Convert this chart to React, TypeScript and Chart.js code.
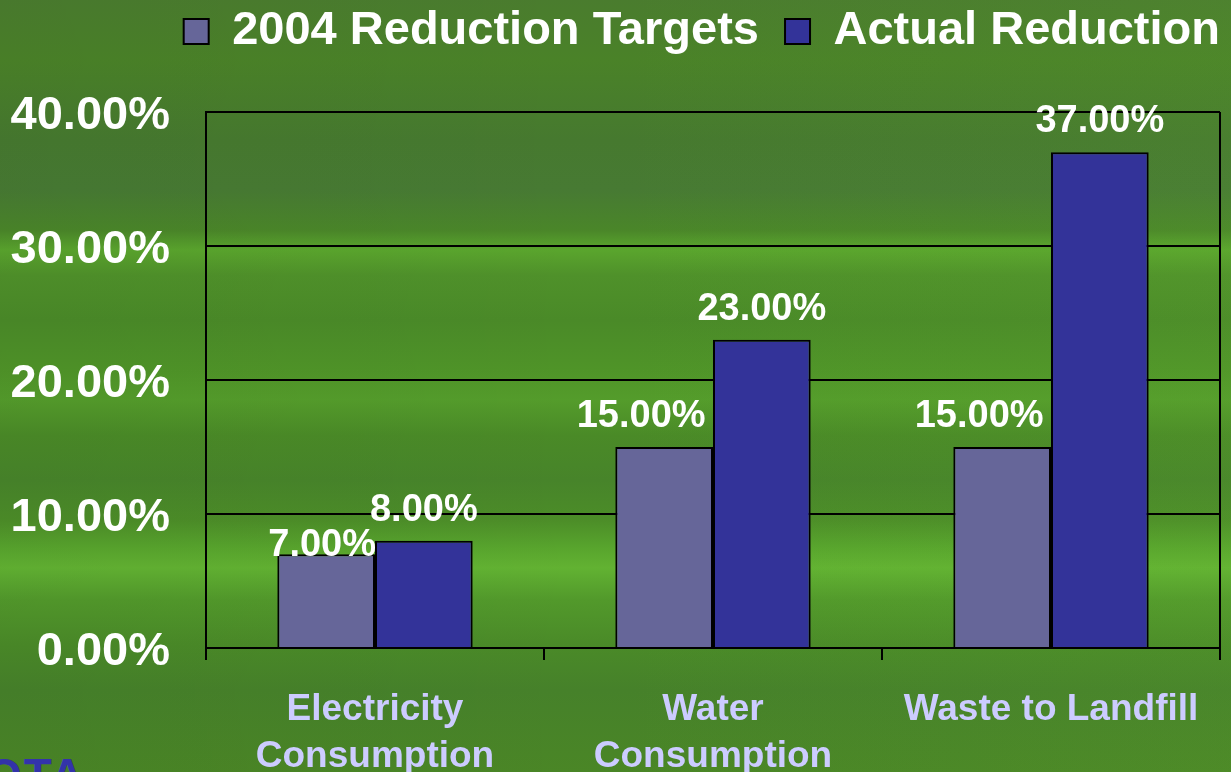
import React, { useEffect, useRef } from 'react';
import { Chart, registerables } from 'chart.js';

Chart.register(...registerables);

const categories: (string | string[])[] = [['Electricity', 'Consumption'], ['Water', 'Consumption'], 'Waste to Landfill'];
const seriesNames = ['2004 Reduction Targets', 'Actual Reduction'];
const targetValues = [7, 15, 15];
const actualValues = [8, 23, 37];
const yMin = 0;
const yMax = 40;
const yStep = 10;

const FONT = '"Liberation Sans", Arial, Helvetica, sans-serif';

const valueLabels = {
  id: 'valueLabels',
  afterDatasetsDraw(chart: any) {
    const ctx = chart.ctx;
    ctx.save();
    ctx.font = `bold 38px ${FONT}`;
    ctx.fillStyle = '#ffffff';
    ctx.textAlign = 'center';
    ctx.textBaseline = 'alphabetic';
    chart.data.datasets.forEach((ds: any, di: number) => {
      const meta = chart.getDatasetMeta(di);
      meta.data.forEach((bar: any, i: number) => {
        let dx = di === 0 ? -23 : 0;
        let dy = 0;
        if (di + 1 < chart.data.datasets.length) {
          const other = chart.getDatasetMeta(di + 1).data[i];
          if (other && Math.abs(other.y - bar.y) < 30) {
            dx = -4;
            dy = 22;
          }
        }
        ctx.fillText(Number(ds.data[i]).toFixed(2) + '%', bar.x + dx, bar.y - 20 + dy);
      });
    });
    ctx.restore();
  },
};

const frameRight = {
  id: 'frameRight',
  afterDraw(chart: any) {
    const { ctx, chartArea } = chart;
    ctx.save();
    ctx.strokeStyle = '#000000';
    ctx.lineWidth = 2;
    ctx.beginPath();
    ctx.moveTo(chartArea.right, chartArea.top);
    ctx.lineTo(chartArea.right, chartArea.bottom);
    ctx.stroke();
    ctx.restore();
  },
};

export default function App() {
  const ref = useRef<HTMLCanvasElement | null>(null);

  useEffect(() => {
    if (!ref.current) return;
    const chart = new Chart(ref.current, {
      type: 'bar',
      data: {
        labels: categories,
        datasets: [
          {
            label: seriesNames[0],
            data: targetValues,
            xAxisID: 'x',
            yAxisID: 'y',
            backgroundColor: '#666699',
            borderColor: '#000000',
            borderWidth: 2,
            categoryPercentage: 0.578,
            barPercentage: 1,
          },
          {
            label: seriesNames[1],
            data: actualValues,
            xAxisID: 'x',
            yAxisID: 'y',
            backgroundColor: '#333399',
            borderColor: '#000000',
            borderWidth: 2,
            categoryPercentage: 0.578,
            barPercentage: 1,
          },
        ],
      },
      options: {
        responsive: false,
        animation: false,
        devicePixelRatio: 1,
        layout: { padding: { top: 8, right: 11, left: 0, bottom: 0 } },
        plugins: {
          tooltip: { enabled: false },
          legend: {
            display: true,
            position: 'top',
            align: 'end',
            labels: {
              color: '#ffffff',
              font: { family: FONT, size: 47, weight: 'bold' },
              boxWidth: 25,
              boxHeight: 25,
              padding: 0,
              generateLabels(chart: any) {
                const items = Chart.defaults.plugins.legend.labels.generateLabels(chart);
                return items.map((it: any, i: number) => ({
                  ...it,
                  text: i < items.length - 1 ? it.text + '  ' : it.text,
                  lineWidth: 2,
                  strokeStyle: '#000000',
                }));
              },
            },
          },
        },
        scales: {
          x: {
            type: 'category',
            position: 'bottom',
            offset: true,
            grid: {
              display: true,
              drawOnChartArea: false,
              drawTicks: true,
              tickLength: 12,
              color: '#000000',
              lineWidth: 2,
              offset: true,
            },
            border: { display: true, color: '#000000', width: 2 },
            ticks: {
              color: '#ccccff',
              font: { family: FONT, size: 37, weight: 'bold', lineHeight: 1.27 },
              padding: 26,
              maxRotation: 0,
              autoSkip: false,
            },
            afterFit(s: any) {
              s.height = 124;
            },
          },
          spacer: {
            type: 'linear',
            axis: 'x',
            position: 'top',
            display: true,
            min: 0,
            max: 1,
            grid: { display: false },
            ticks: { display: false },
            border: { display: false },
            afterFit(s: any) {
              s.height = 47;
            },
          },
          y: {
            type: 'linear',
            position: 'left',
            min: yMin,
            max: yMax,
            grid: {
              display: true,
              color: '#000000',
              lineWidth: 2,
              drawTicks: false,
            },
            border: { display: true, color: '#000000', width: 2 },
            ticks: {
              stepSize: yStep,
              color: '#ffffff',
              font: { family: FONT, size: 47, weight: 'bold' },
              padding: 36,
              labelOffset: 4,
              callback: (v: any) => Number(v).toFixed(2) + '%',
            },
            afterFit(s: any) {
              s.width = 206;
            },
          },
        },
      },
      plugins: [valueLabels, frameRight],
    } as any);
    return () => chart.destroy();
  }, []);

  const bg =
    'linear-gradient(to bottom, #4a7c2e 0px, #4a8228 60px, #46792f 140px, #477a33 190px, #4a8629 230px, #5aa52d 250px, #4f912a 275px, #4a8a28 320px, #4f9428 370px, #549c2b 400px, #4a8a27 435px, #47842a 480px, #4c8d28 520px, #58a52d 548px, #62b232 568px, #52992b 600px, #4a8a28 645px, #46812a 690px, #4a8626 772px)';

  return (
    <div
      style={{
        position: 'fixed',
        left: 0,
        top: 0,
        width: 1231,
        height: 772,
        overflow: 'hidden',
        background: bg,
      }}
    >
      <div
        style={{
          position: 'absolute',
          left: 0,
          top: 0,
          width: 1231,
          height: 772,
          background:
            'linear-gradient(to right, rgba(0,0,0,0.03) 0%, rgba(0,0,0,0) 50%, rgba(120,200,60,0.08) 100%)',
        }}
      />
      <div
        style={{
          position: 'absolute',
          left: -14,
          top: 752,
          fontFamily: FONT,
          fontWeight: 'bold',
          fontSize: 46,
          lineHeight: '46px',
          color: '#3333aa',
          letterSpacing: 2,
        }}
      >
        OTA
      </div>
      <canvas ref={ref} width={1231} height={772} style={{ position: 'absolute', left: 0, top: 0 }} />
    </div>
  );
}
